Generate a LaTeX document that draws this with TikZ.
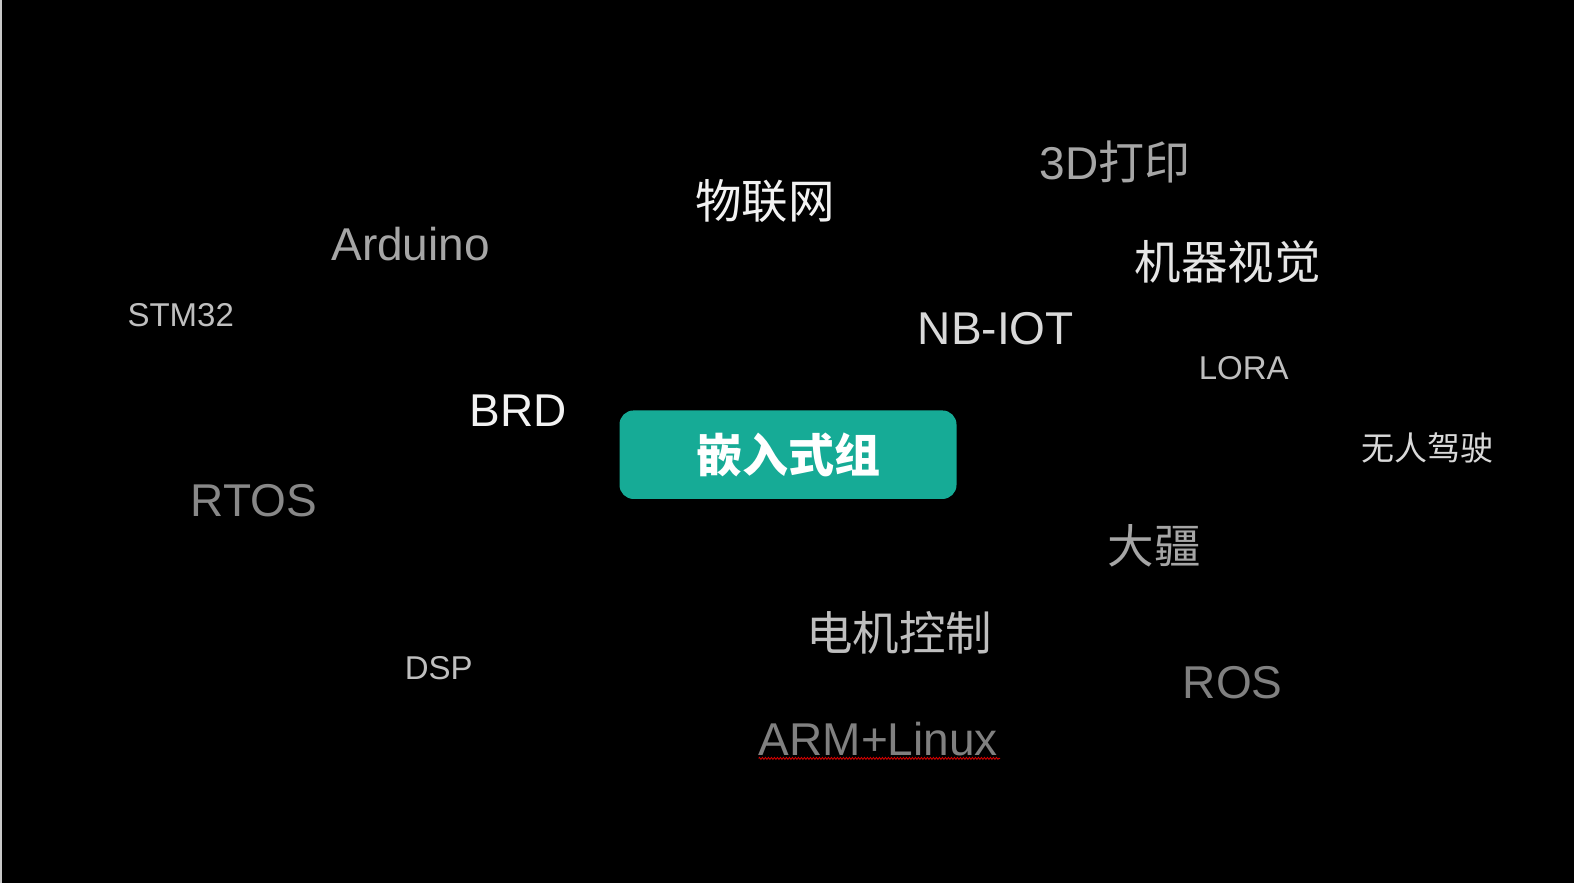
\documentclass[tikz,border=0pt]{standalone}
\usepackage{fontspec}
\setmainfont{Liberation Sans}
\newfontfamily\cjk{Noto Sans CJK SC}
\usetikzlibrary{decorations.pathmorphing}
\definecolor{teal1}{HTML}{16AB96}
\definecolor{gA}{HTML}{F2F2F2}
\definecolor{gB}{HTML}{D9D9D9}
\definecolor{gC}{HTML}{BFBFBF}
\definecolor{gD}{HTML}{A6A6A6}
\definecolor{gE}{HTML}{808080}
\definecolor{edge}{HTML}{C8C8C8}
\tikzset{
  word/.style={inner sep=0pt, anchor=center},
  big/.style={word, font=\fontsize{46}{46}\selectfont},
  small/.style={word, font=\fontsize{33}{33}\selectfont},
  bigcjk/.style={word, font=\fontsize{46.5}{46.5}\selectfont\cjk},
  smallcjk/.style={word, font=\fontsize{33}{33}\selectfont\cjk},
  mainbox/.style={fill=teal1, rounded corners=14pt, minimum width=337pt, minimum height=88.5pt, inner sep=0pt,
    text=white, font=\fontsize{46}{46}\selectfont\cjk\bfseries},
  squiggle/.style={draw=red!85!black, line width=0.8pt, decorate, decoration={zigzag, segment length=3pt, amplitude=1pt}}
}
\begin{document}
\begin{tikzpicture}[x=1pt,y=-1pt]
\useasboundingbox (0,0) rectangle (1574,883);
\fill[black] (0,0) rectangle (1574,883);
\fill[edge] (0,0) rectangle (1.5,883);

\node[mainbox] (core) at (788,454.7) {嵌入式组};

\node[bigcjk, text=gA] (iot) at (765,200.8) {物联网};
\node[big, text=gD] (print3d) at (1115,161.6) {3D{\cjk 打印}};
\node[big, text=gD] (arduino) at (410.6,244) {Arduino};
\node[small, text=gC] (stm) at (180.7,315.2) {STM32};
\node[bigcjk, text=gB!50!gA] (vision) at (1227.7,262) {机器视觉};
\node[big, text=gB] (nbiot) at (995.8,328.3) {NB-IOT};
\node[small, text=gC] (lora) at (1243.7,368.4) {LORA};
\node[big, text=gA] (brd) at (518,410.6) {BRD};
\node[smallcjk, text=gB] (drive) at (1427.4,447.7) {无人驾驶};
\node[big, text=gE!80!gD] (rtos) at (254,501) {RTOS};
\node[bigcjk, text=gD] (dji) at (1154.4,546) {大疆};
\node[bigcjk, text=gC] (motor) at (899.4,632.4) {电机控制};
\node[small, text=gC] (dsp) at (438.7,668.5) {DSP};
\node[big, text=gE] (ros) at (1232.7,682.6) {ROS};
\node[big, text=gE] (arm) at (878.4,738.8) {ARM+Linux};

\coordinate (sqa) at ([yshift=-2.5pt]arm.south west);
\coordinate (sqb) at ([yshift=-2.5pt,xshift=2pt]arm.south east);
\draw[squiggle] (sqa) -- (sqb);
\end{tikzpicture}
\end{document}
